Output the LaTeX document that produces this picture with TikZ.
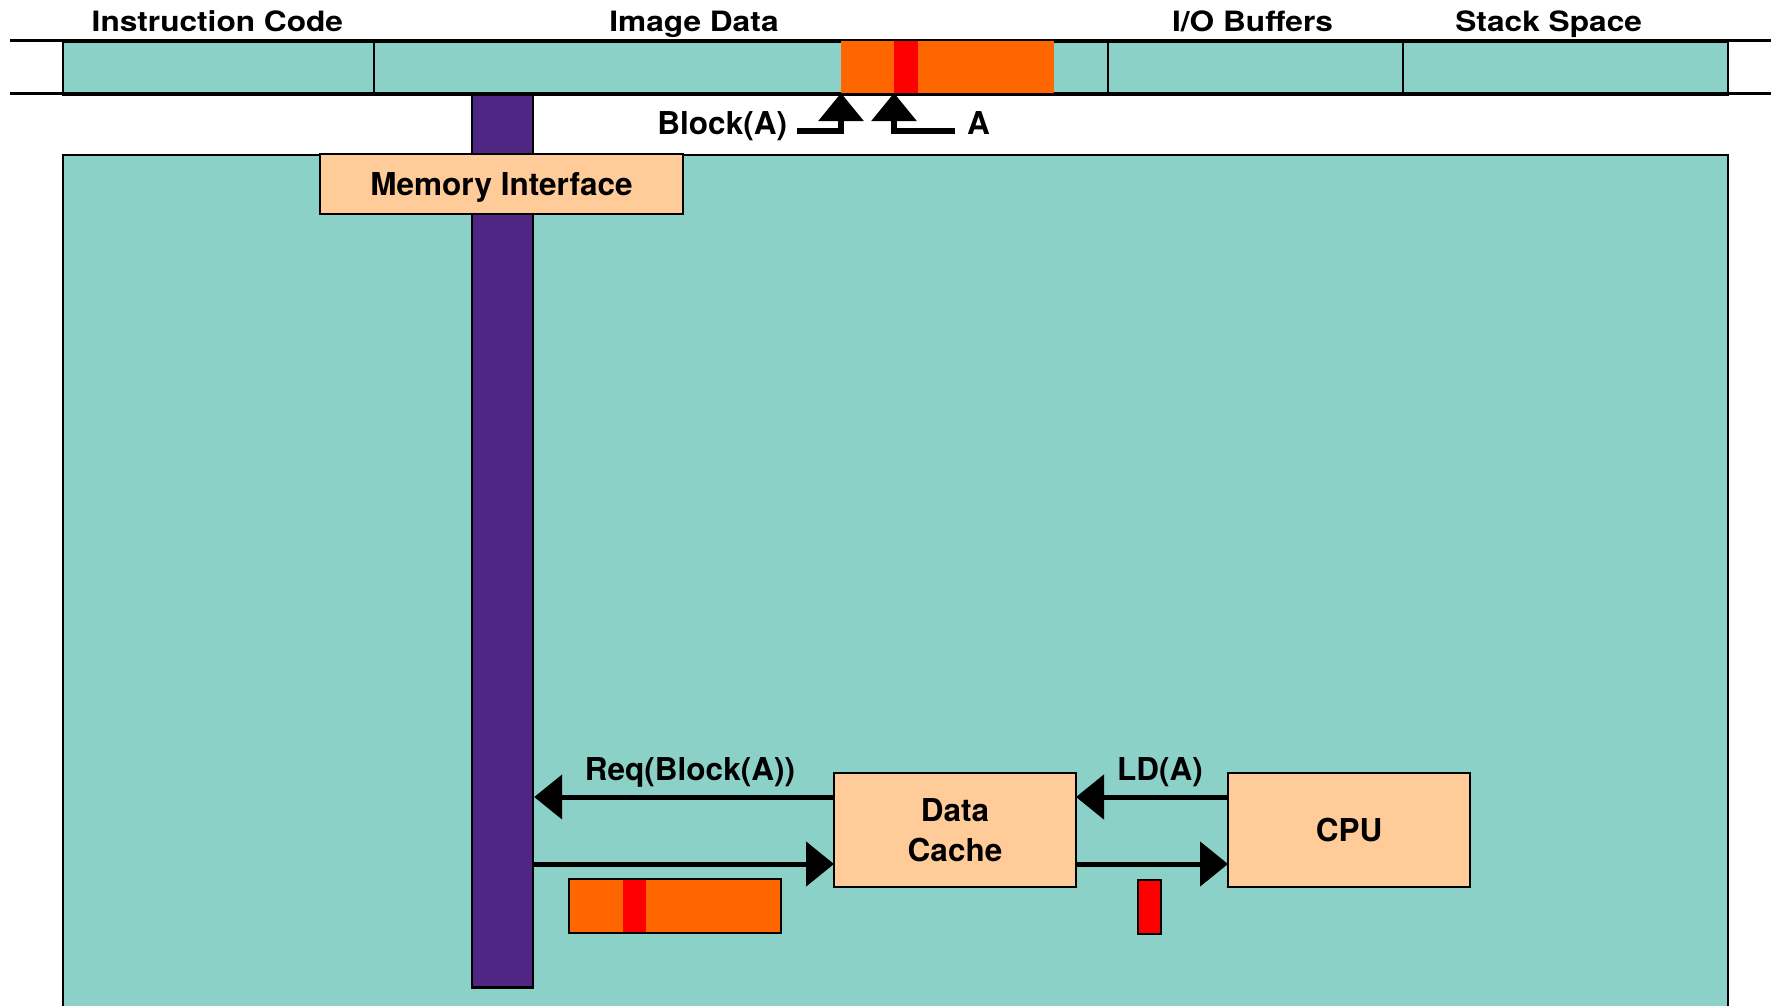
\documentclass[tikz,border=0pt]{standalone}
\usepackage{fontspec}
\setmainfont{TeX Gyre Heros}
\newfontfamily\topfont{TeX Gyre Heros}[FakeStretch=1.13]
\usetikzlibrary{arrows.meta}
\definecolor{tealA}{RGB}{140,209,199}
\definecolor{peach}{RGB}{255,204,153}
\definecolor{orangeA}{RGB}{255,102,0}
\definecolor{redA}{RGB}{255,0,0}
\definecolor{purpleA}{RGB}{80,38,132}
\begin{document}
\begin{tikzpicture}[x=1pt,y=-1pt,
  box/.style={draw=black, line width=2.4pt, inner sep=0pt, anchor=north west},
  plain/.style={inner sep=0pt, outer sep=0pt, anchor=north west},
  lbl/.style={font=\fontsize{31.5}{40}\selectfont\bfseries, inner sep=0pt, outer sep=0pt},
  toplbl/.style={font=\topfont\fontsize{28}{34}\selectfont\bfseries, inner sep=0pt, outer sep=0pt, anchor=base},
  arr/.style={line width=5pt, -{Triangle[length=28pt,width=44pt]}},
  uparr/.style={line width=6pt, -{Triangle[length=28pt,width=44pt]}}]
\useasboundingbox (0,0) rectangle (1771,1005);
\clip (0,0) rectangle (1771,1005);

% top memory band
\node[box, fill=tealA, line width=2.2pt, minimum width=311pt, minimum height=53pt] (seg1) at (62,40.3) {};
\node[box, fill=tealA, line width=2.2pt, minimum width=733.5pt, minimum height=53pt] (seg2) at (373,40.3) {};
\node[box, fill=tealA, line width=2.2pt, minimum width=295.5pt, minimum height=53pt] (seg3) at (1106.5,40.3) {};
\node[box, fill=tealA, line width=2.2pt, minimum width=325pt, minimum height=53pt] (seg4) at (1402,40.3) {};
\draw[line width=2.4pt] (10,40.3) -- (1771,40.3);
\draw[line width=2.4pt] (10,93.3) -- (1771,93.3);
\node[plain, fill=orangeA, minimum width=213pt, minimum height=52pt] (ob) at (841,41) {};
\node[plain, fill=redA, minimum width=24pt, minimum height=52pt] (rt) at (894,41) {};

% labels of the band
\node[toplbl] (lic) at (217.4,31.7) {Instruction Code};
\node[toplbl] (lid) at (694,31.7) {Image Data};
\node[toplbl] (lio) at (1252.6,31.7) {I/O Buffers};
\node[toplbl] (lss) at (1548.6,31.7) {Stack Space};

% main chip box
\node[box, fill=tealA, minimum width=1665pt, minimum height=950pt] (chip) at (62,154) {};

% bus
\node[box, fill=purpleA, line width=2.2pt, minimum width=61pt, minimum height=893pt] (bus) at (471,93.3) {};

% memory interface
\node[box, fill=peach, minimum width=363pt, minimum height=60pt, lbl, text height=22.6pt, text depth=0pt] (mi) at (320,154) {Memory Interface};

% cache & cpu
\node[box, fill=peach, minimum width=242pt, minimum height=114pt, lbl, align=center] (cache) at (834,773) {Data\\Cache};
\node[box, fill=peach, minimum width=242pt, minimum height=114pt, lbl] (cpu) at (1228,773) {CPU};

% block in transit and word
\node[plain, fill=orangeA, minimum width=212pt, minimum height=54pt] (lob) at (569,879) {};
\node[plain, fill=redA, minimum width=23pt, minimum height=52pt] (lred) at (623,880) {};
\draw[line width=2.2pt] (lob.north west) rectangle (lob.south east);
\node[box, fill=redA, line width=2.2pt, minimum width=23pt, minimum height=54pt] (word) at (1137,879) {};

% top address labels and arrows
\node[lbl, anchor=base east, inner xsep=10pt] (blk) at (797,134) {Block(A)};
\node[lbl, anchor=base west, inner xsep=12pt] (alab) at (955,134) {A};
\draw[uparr] ([yshift=3pt]blk.base east) -| (ob.south west);
\draw[uparr] ([yshift=3pt]alab.base west) -| (rt.south west);

% request / response arrows
\draw[arr] ([yshift=33pt]cache.west) -- ([yshift=33pt]cache.west -| bus.east);
\draw[arr] ([yshift=-34pt]cache.west -| bus.east) -- ([yshift=-34pt]cache.west);
\draw[arr] ([yshift=33pt]cpu.west) -- ([yshift=33pt]cache.east);
\draw[arr] ([yshift=-34pt]cache.east) -- ([yshift=-34pt]cpu.west);

\node[lbl, anchor=base] (lreq) at (690,780) {Req(Block(A))};
\node[lbl, anchor=base] (lld) at (1160,780) {LD(A)};
\end{tikzpicture}
\end{document}
